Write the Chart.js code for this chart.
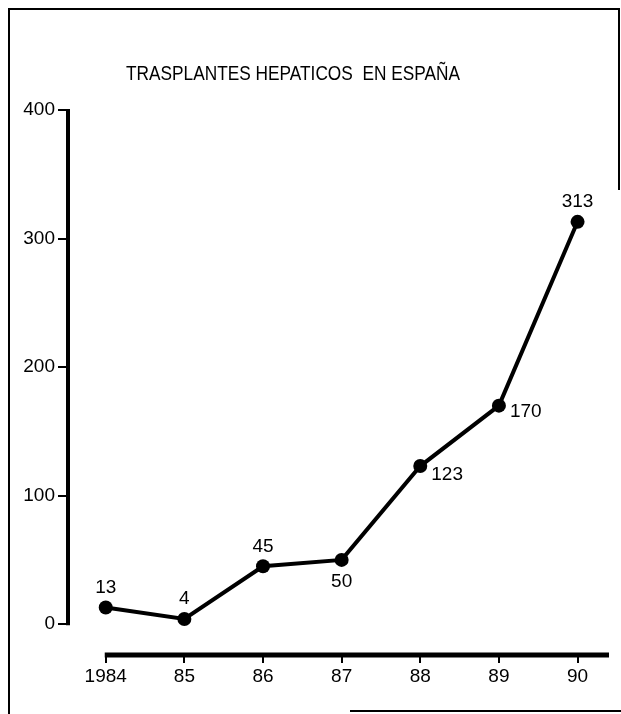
<!DOCTYPE html>
<html lang="es">
<head>
  <meta charset="UTF-8" />
  <title>Trasplantes hepaticos en España</title>
  <script src="https://cdn.jsdelivr.net/npm/chart.js"></script>
  <style>
    html, body { margin: 0; padding: 0; background: #fff; }
    #wrap { width: 621px; height: 714px; }
  </style>
</head>
<body>
  <div id="wrap"><canvas id="grafico" width="621" height="714"></canvas></div>

  <script>
    const years = [1984, 1985, 1986, 1987, 1988, 1989, 1990];
    const transplants = [13, 4, 45, 50, 123, 170, 313];
    const yTicks = [0, 100, 200, 300, 400];
    const titulo = 'TRASPLANTES HEPATICOS  EN ESPAÑA';

    const FONT = '"Liberation Sans Narrow", "Liberation Sans", Arial, sans-serif';
    // donde va cada etiqueta respecto al punto
    const labelPos = ['top', 'top', 'top', 'bottom', 'rightBelow', 'right', 'top'];

    const decor = {
      id: 'decor',
      beforeDraw(chart) {
        const c = chart.ctx;
        c.save();
        c.strokeStyle = '#000';
        c.lineWidth = 2;
        c.beginPath();
        c.moveTo(9, 714); c.lineTo(9, 9); c.lineTo(619, 9); c.lineTo(619, 190);
        c.moveTo(350, 711); c.lineTo(621, 711);
        c.stroke();
        // titulo algo condensado, como en el original
        c.fillStyle = '#000';
        c.font = '20px ' + FONT;
        c.textAlign = 'center';
        c.textBaseline = 'alphabetic';
        const w = c.measureText(titulo).width;
        const sx = Math.min(1, 334 / w);
        c.translate(293, 80);
        c.scale(sx, 1);
        c.fillText(titulo, 0, 0);
        c.restore();
      },
      afterDraw(chart) {
        const c = chart.ctx;
        const x = chart.scales.x, y = chart.scales.y;
        const area = chart.chartArea;
        c.save();
        c.strokeStyle = '#000';
        c.lineCap = 'butt';
        // eje y solo de 0 a 400
        c.lineWidth = 4;
        c.beginPath();
        c.moveTo(area.left, y.getPixelForValue(yTicks[0]) + 1);
        c.lineTo(area.left, y.getPixelForValue(yTicks[yTicks.length - 1]) - 1);
        c.stroke();
        // eje x desde 1984
        c.lineWidth = 5;
        c.beginPath();
        c.moveTo(x.getPixelForValue(years[0]) - 1, area.bottom);
        c.lineTo(area.right, area.bottom);
        c.stroke();

        // etiquetas de valores
        c.fillStyle = '#000';
        c.font = '19px ' + FONT;
        const meta = chart.getDatasetMeta(0);
        meta.data.forEach((pt, i) => {
          let tx = pt.x, ty = pt.y;
          const p = labelPos[i];
          c.textAlign = 'center';
          c.textBaseline = 'middle';
          if (p === 'top') ty -= 20;
          else if (p === 'bottom') ty += 22;
          else if (p === 'right') { tx += 11; ty += 6; c.textAlign = 'left'; }
          else if (p === 'rightBelow') { tx += 11; ty += 9; c.textAlign = 'left'; }
          c.fillText(String(transplants[i]), tx, ty);
        });
        c.restore();
      }
    };

    new Chart(document.getElementById('grafico'), {
      type: 'line',
      data: {
        datasets: [{
          data: years.map((yr, i) => ({ x: yr, y: transplants[i] })),
          borderColor: '#000',
          backgroundColor: '#000',
          borderWidth: 4,
          pointRadius: 7,
          pointBackgroundColor: '#000',
          pointBorderWidth: 0,
          tension: 0
        }]
      },
      options: {
        responsive: false,
        animation: false,
        layout: { padding: { top: 110, right: 12, left: 0, bottom: 0 } },
        plugins: {
          legend: { display: false },
          tooltip: { enabled: false }
        },
        scales: {
          x: {
            type: 'linear',
            min: 1983.52,
            max: 1990.4,
            afterBuildTicks: s => { s.ticks = years.map(v => ({ value: v })); },
            afterFit: s => { s.height = 59; },
            border: { display: false },
            grid: { drawOnChartArea: false, drawTicks: true, tickLength: 8, color: '#000', lineWidth: 2 },
            ticks: {
              color: '#000',
              padding: 2,
              maxRotation: 0,
              font: { family: FONT, size: 19 },
              callback: v => v === years[0] ? String(v) : String(v).slice(2)
            }
          },
          y: {
            min: -24,
            max: 400,
            afterBuildTicks: s => { s.ticks = yTicks.map(v => ({ value: v })); },
            afterFit: s => { s.width = 68; },
            border: { display: false },
            grid: { drawOnChartArea: false, drawTicks: true, tickLength: 10, color: '#000', lineWidth: 2 },
            ticks: {
              color: '#000',
              padding: 3,
              font: { family: FONT, size: 19 }
            }
          }
        }
      },
      plugins: [decor]
    });
  </script>
</body>
</html>
